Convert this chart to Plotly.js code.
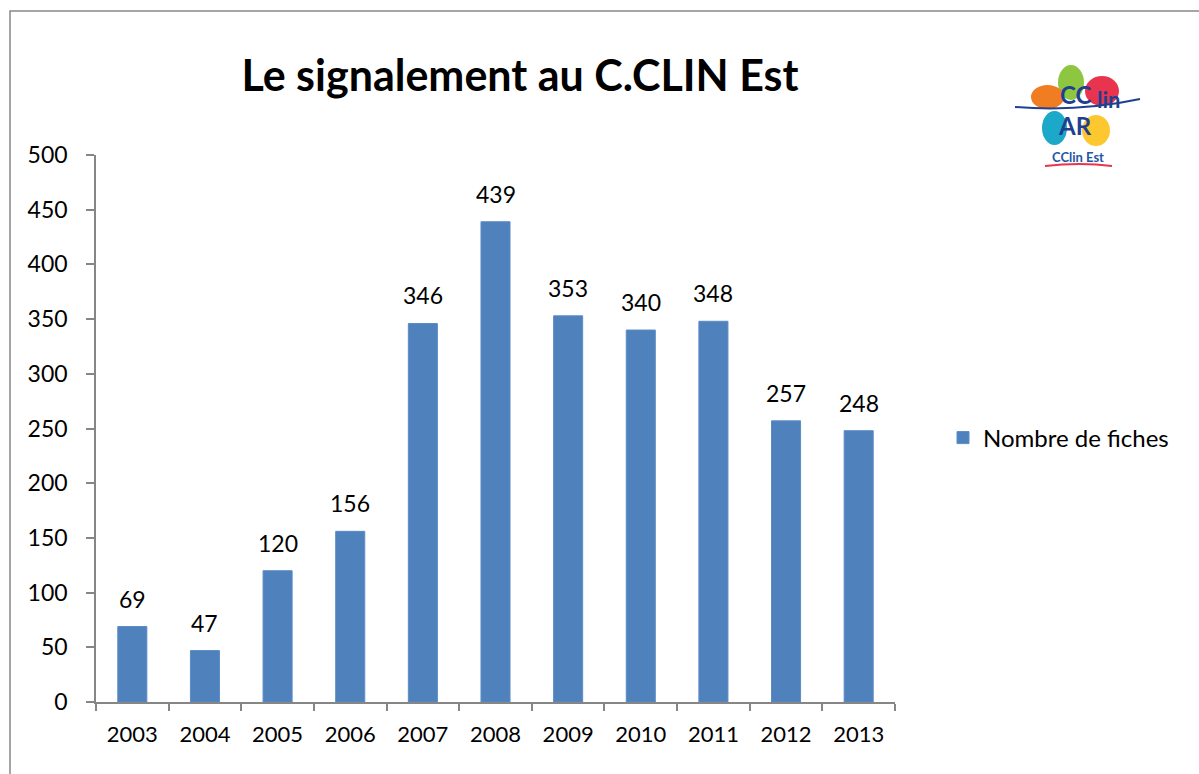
<!DOCTYPE html>
<html>
<head>
<meta charset="utf-8">
<script src="https://cdn.plot.ly/plotly-3.0.1.min.js"></script>
<style>
  html, body { margin: 0; padding: 0; background: #fff; }
  #chart { width: 1199px; height: 774px; }
</style>
</head>
<body>
<div id="chart"></div>
<script>
  var years = ['2003', '2004', '2005', '2006', '2007', '2008', '2009', '2010', '2011', '2012', '2013'];
  var fiches = [69, 47, 120, 156, 346, 439, 353, 340, 348, 257, 248];
  var yTicks = [0, 50, 100, 150, 200, 250, 300, 350, 400, 450, 500];

  // pixel -> paper helpers for the decorations (plot area is 96..895 x 155..702)
  var L = 96, R = 895, T = 155, B = 702;
  function px(x) { return (x - L) / (R - L); }
  function py(y) { return (B - y) / (B - T); }

  var trace1 = {
    x: years,
    y: fiches,
    type: 'bar',
    name: 'Nombre de fiches',
    marker: {color: '#4F81BD', line: {color: '#5b8cc6', width: 1}},
    width: 0.4
  };

  // value labels above the bars (x given as category index)
  var labels = years.map(function(yr, i) {
    return {
      x: i, y: fiches[i], xref: 'x', yref: 'y',
      text: String(fiches[i]), showarrow: false,
      yanchor: 'bottom', yshift: 12,
      font: {family: 'Lato, sans-serif', size: 23, color: '#000'}
    };
  });

  // logo text
  var logoFont = 'Lato, sans-serif';
  var logoText = [
    {x: px(1076), y: py(94), text: '<b>CC</b>', size: 24, color: '#1F3F8F'},
    {x: px(1108), y: py(99), text: '<b>lin</b>', size: 22, color: '#1F3F8F'},
    {x: px(1075), y: py(125), text: '<b>AR</b>', size: 24, color: '#1F3F8F'},
    {x: px(1078), y: py(157), text: '<b>CClin Est</b>', size: 13, color: '#2456A6'}
  ].map(function(t) {
    return {x: t.x, y: t.y, xref: 'paper', yref: 'paper', text: t.text, showarrow: false,
      xanchor: 'center', yanchor: 'middle', font: {family: logoFont, size: t.size, color: t.color}};
  });

  function petal(x0, y0, x1, y1, color) {
    return {type: 'circle', xref: 'paper', yref: 'paper', x0: px(x0), x1: px(x1), y0: py(y1), y1: py(y0),
      fillcolor: color, line: {width: 0}, layer: 'above'};
  }

  var shapes = [
    // outer frame
    {type: 'rect', xref: 'paper', yref: 'paper', x0: px(10), x1: px(1230), y0: py(800), y1: py(11),
      line: {color: '#888888', width: 1.5}, fillcolor: 'rgba(0,0,0,0)'},
    petal(1058, 65, 1084, 100, '#8DC63F'),
    petal(1085, 76, 1119, 106, '#E8344E'),
    petal(1031, 85, 1064, 109, '#F07D22'),
    petal(1042, 111, 1067, 145, '#1BA8C9'),
    petal(1082, 115, 1110, 146, '#FDC82F'),
    {type: 'path', xref: 'paper', yref: 'paper',
      path: 'M ' + px(1015) + ' ' + py(107) + ' Q ' + px(1080) + ' ' + py(112) + ' ' + px(1140) + ' ' + py(99),
      line: {color: '#1F3F8F', width: 2}, layer: 'above'},
    {type: 'path', xref: 'paper', yref: 'paper',
      path: 'M ' + px(1045) + ' ' + py(166) + ' Q ' + px(1080) + ' ' + py(162) + ' ' + px(1112) + ' ' + py(166),
      line: {color: '#E8344E', width: 2}, layer: 'above'}
  ];

  var layout = {
    width: 1199,
    height: 774,
    margin: {l: L, r: 1199 - R, t: T, b: 774 - B},
    paper_bgcolor: '#fff',
    plot_bgcolor: '#fff',
    font: {family: 'Lato, sans-serif', size: 22, color: '#000'},
    title: {
      text: '<b>Le signalement au C.CLIN Est</b>',
      font: {family: 'Lato, sans-serif', size: 43, color: '#000'},
      x: 520 / 1199, xanchor: 'center', y: (774 - 76) / 774, yanchor: 'middle'
    },
    showlegend: true,
    legend: {
      x: px(943), y: py(438), xanchor: 'left', yanchor: 'middle',
      font: {family: 'Lato, sans-serif', size: 24, color: '#000'},
      itemwidth: 30
    },
    xaxis: {
      type: 'category',
      range: [-0.5, years.length - 0.5],
      showline: true, linecolor: '#868686', linewidth: 1.5,
      ticks: 'outside', tickson: 'boundaries', ticklen: 7, tickcolor: '#868686', tickwidth: 1.5,
      ticklabelstandoff: 12,
      showgrid: false, zeroline: false,
      tickfont: {family: 'Lato, sans-serif', size: 22}
    },
    yaxis: {
      range: [0, 500],
      tickvals: yTicks,
      showline: true, linecolor: '#868686', linewidth: 1.5,
      ticks: 'outside', ticklen: 8, tickcolor: '#868686', tickwidth: 1.5,
      ticklabelstandoff: 14,
      showgrid: false, zeroline: false,
      tickfont: {family: 'Lato, sans-serif', size: 23}
    },
    annotations: labels.concat(logoText),
    shapes: shapes
  };

  Plotly.newPlot('chart', [trace1], layout, {displayModeBar: false});
</script>
</body>
</html>
